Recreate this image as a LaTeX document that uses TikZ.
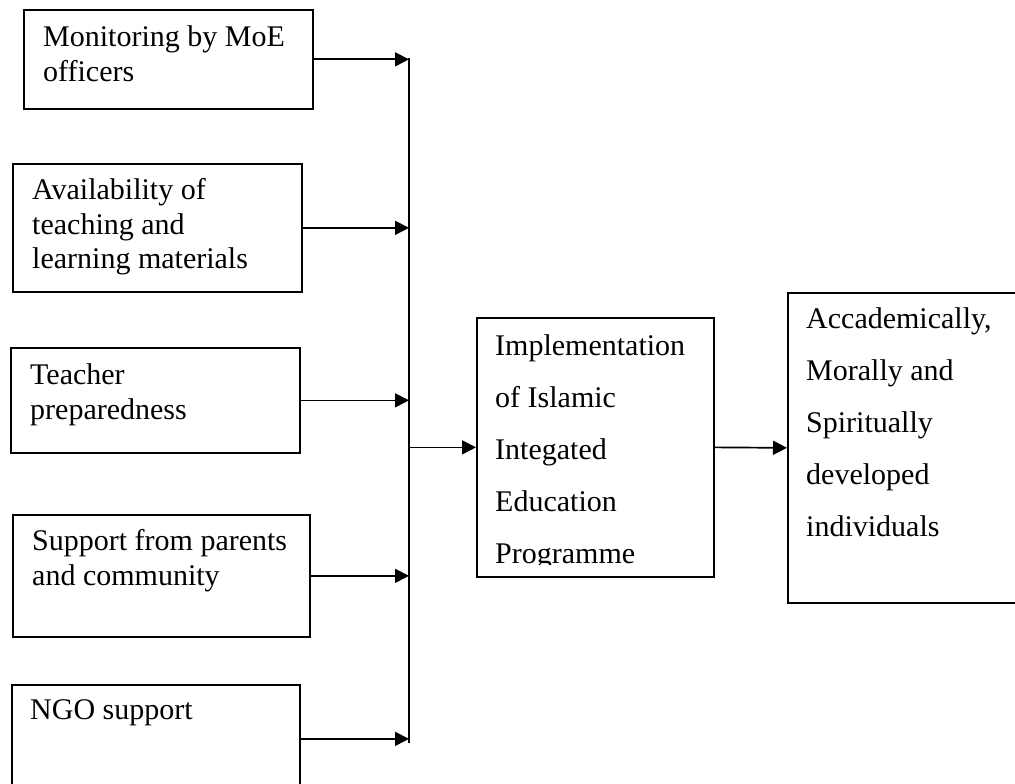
\documentclass[tikz,border=0pt]{standalone}
\usepackage{fontspec}
\setmainfont{Liberation Serif}
\usetikzlibrary{arrows.meta}
\tikzset{
  box/.style={draw, line width=1.7pt, inner sep=0pt, anchor=north west},
  lbl/.style={anchor=north west, inner sep=0pt, align=left, font=\fontsize{30}{34.5}\selectfont},
  widelbl/.style={lbl, font=\fontsize{30}{52}\selectfont},
  arr/.style={line width=1.7pt, -{Triangle[length=14pt,width=14pt]}}
}
\begin{document}
\begin{tikzpicture}[x=1pt,y=-1pt]
\useasboundingbox (0,0) rectangle (1015,784);
\node[box, minimum width=289pt, minimum height=99pt] (mon) at (23,9) {};
\node[box, minimum width=289pt, minimum height=128pt] (avail) at (12,163) {};
\node[box, minimum width=289pt, minimum height=105pt] (teach) at (10,347) {};
\node[box, minimum width=297pt, minimum height=122pt] (supp) at (12,514) {};
\node[box, minimum width=288pt, minimum height=108pt] (ngo) at (11,684) {};
\node[box, minimum width=237pt, minimum height=259pt] (impl) at (476,317) {};
\node[box, minimum width=240pt, minimum height=310pt] (res) at (787,292) {};
\node[lbl] (montxt) at (43,25.5) {Monitoring by MoE\\officers};
\node[lbl] (availtxt) at (32,178.5) {Availability of\\teaching and\\learning materials};
\node[lbl] (teachtxt) at (30,363.5) {Teacher\\preparedness};
\node[lbl] (supptxt) at (32,529.5) {Support from parents\\and community};
\node[lbl] (ngotxt) at (30,699.5) {NGO support};
\begin{scope}
\clip (impl.north west) rectangle ([yshift=13pt]impl.south east);
\node[widelbl] (impltxt) at (495,334.5) {Implementation\\of Islamic\\Integated\\Education\\Programme};
\end{scope}
\node[widelbl] (restxt) at (806,307.5) {Accademically,\\Morally and\\Spiritually\\developed\\individuals};
\coordinate (bustop) at (409,58.5);
\coordinate (busbot) at (409,743);
\draw[line width=1.7pt] (bustop) -- (busbot);
\draw[arr] (mon.east) -- (mon.east -| bustop);
\draw[arr] (avail.east) -- (avail.east -| bustop);
\draw[arr] (teach.east) -- (teach.east -| bustop);
\draw[arr] (supp.east) -- (supp.east -| bustop);
\draw[arr] (ngo.east) -- (ngo.east -| bustop);
\draw[arr] (impl.west -| bustop) -- (impl.west);
\draw[arr] (impl.east) -- (res.west);
\end{tikzpicture}
\end{document}
